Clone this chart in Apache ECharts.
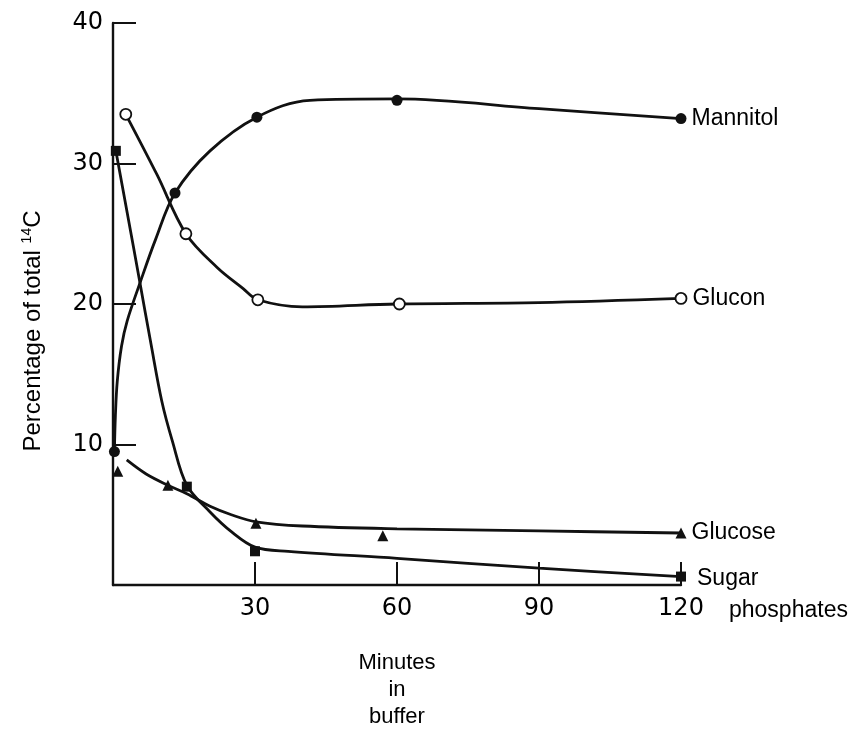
<!DOCTYPE html>
<html><head><meta charset="utf-8">
<script src="https://cdn.jsdelivr.net/npm/echarts@6/dist/echarts.min.js"></script>
<style>html,body{margin:0;padding:0;background:#fff}#c{width:856px;height:733px}</style>
</head><body><div id="c"></div>
<script>
// Axis settings
const xTicks = [0, 30, 60, 90, 120];
const yTicks = [0, 10, 20, 30, 40];

// Measured points (minutes, % of total 14C)
const mannitolPts = [[0.3, 9.5], [13.1, 27.9], [30.4, 33.3], [60, 34.5], [120, 33.2]];
const gluconPts   = [[2.7, 33.5], [15.4, 25.0], [30.6, 20.3], [60.5, 20.0], [120, 20.4]];
const glucosePts  = [[1, 8.1], [11.6, 7.1], [30.2, 4.4], [57, 3.5], [120, 3.7]];
const sugarPts    = [[0.6, 30.9], [15.6, 7.0], [30, 2.4], [120, 0.6]];

// Drawn curves
const mannitolCurve = [[0.3, 9.5], [0.5, 12.0], [0.9, 14.5], [1.8, 17.0], [3, 18.8], [5.7, 21.5], [9, 24.6], [13.1, 27.9], [20.5, 30.9], [30.4, 33.3], [41.6, 34.5], [60, 34.6], [90, 33.9], [120, 33.2]];
const gluconCurve   = [[2.7, 33.5], [9.3, 29.2], [15.4, 25.0], [22, 22.6], [27.5, 21.1], [30.6, 20.3], [40, 19.8], [60, 20.0], [90, 20.1], [120, 20.4]];
const glucoseCurve  = [[2.9, 8.9], [7, 7.9], [11.6, 7.1], [15.6, 6.5], [20.5, 5.6], [25, 5.0], [30.2, 4.5], [40, 4.2], [60, 4.0], [90, 3.85], [120, 3.7]];
const sugarCurve    = [[0.6, 30.9], [3, 26.5], [5.7, 21.5], [8, 17.2], [10.3, 13.1], [12.5, 10.3], [15.6, 7.1], [20.5, 5.2], [25, 3.8], [30, 2.7], [37, 2.4], [60, 1.9], [90, 1.2], [120, 0.6]];

const seriesNames = ['Mannitol', 'Glucon', 'Glucose', 'Sugar phosphates'];

const FONT = '"Liberation Sans", Arial, sans-serif';
const NUMFONT = '"DejaVu Sans", sans-serif';
const INK = '#111';

function curve(data) {
  return {
    type: 'line', data: data, smooth: 0.35, showSymbol: false, symbol: 'none',
    lineStyle: { color: INK, width: 2.8 }, z: 2, silent: true
  };
}
function marks(name, data, symbol, size, filled, label) {
  const d = data.map((p, i) => {
    const item = { value: p };
    if (i === data.length - 1) item.label = label;
    return item;
  });
  return {
    type: 'scatter', name: name, data: d, symbol: symbol, symbolSize: size, z: 5,
    itemStyle: filled ? { color: INK, opacity: 1 } : { color: '#fff', borderColor: INK, borderWidth: 1.8, opacity: 1 },
    label: { show: false }
  };
}
const lbl = (extra) => Object.assign({ show: true, position: 'right', distance: 5, color: '#000', fontSize: 23, fontFamily: FONT }, extra || {});

const option = {
  backgroundColor: '#fff',
  animation: false,
  grid: { left: 113, right: 175, top: 23, bottom: 148, containLabel: false, outerBoundsMode: 'none' },
  xAxis: {
    type: 'value', min: xTicks[0], max: xTicks[xTicks.length - 1], interval: 30,
    axisLine: { lineStyle: { color: INK, width: 2.4 } },
    axisTick: { inside: true, length: 23, lineStyle: { color: INK, width: 2 } },
    axisLabel: { formatter: v => v === 0 ? '' : String(v), fontSize: 24, color: '#000', margin: 12, fontFamily: NUMFONT },
    splitLine: { show: false },
    name: 'Minutes\nin\nbuffer', nameLocation: 'middle', nameGap: 64,
    nameTextStyle: { fontSize: 22, lineHeight: 27, color: '#000', fontFamily: FONT }
  },
  yAxis: {
    type: 'value', min: yTicks[0], max: yTicks[yTicks.length - 1], interval: 10,
    axisLine: { lineStyle: { color: INK, width: 2.4 } },
    axisTick: { inside: true, length: 23, lineStyle: { color: INK, width: 2 } },
    axisLabel: { formatter: v => v === 0 ? '' : String(v), fontSize: 24, color: '#000', margin: 10, fontFamily: NUMFONT },
    splitLine: { show: false },
    name: '{t|Percentage of total }{s|14}{t|C}', nameLocation: 'middle', nameGap: 66, nameRotate: 90,
    nameTextStyle: {
      color: '#000', fontFamily: FONT, padding: [0, 54, 0, 0],
      rich: {
        t: { fontSize: 24, color: '#000', fontFamily: FONT },
        s: { fontSize: 14, color: '#000', fontFamily: FONT, padding: [0, 0, 13, 0] }
      }
    }
  },
  series: [
    curve(mannitolCurve), curve(gluconCurve), curve(glucoseCurve), curve(sugarCurve),
    marks(seriesNames[0], mannitolPts, 'circle', 11, true, lbl({ formatter: 'Mannitol' })),
    marks(seriesNames[1], gluconPts, 'circle', 11, false, lbl({ formatter: 'Glucon' })),
    marks(seriesNames[2], glucosePts, 'triangle', 11, true, lbl({ formatter: 'Glucose' })),
    marks(seriesNames[3], sugarPts, 'rect', 10, true, lbl({
      formatter: '{a|Sugar}\n{b|phosphates}', offset: [6, 18],
      rich: { a: { fontSize: 23, lineHeight: 32, color: '#000', fontFamily: FONT },
              b: { fontSize: 23, lineHeight: 32, color: '#000', fontFamily: FONT, padding: [0, 0, 0, 32] } }
    }))
  ]
};
echarts.init(document.getElementById('c'), null, { renderer: 'canvas' }).setOption(option);
</script></body></html>
